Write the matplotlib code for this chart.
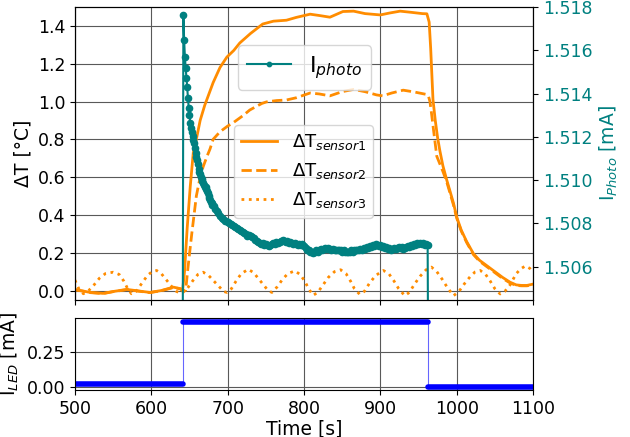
import matplotlib
matplotlib.use("Agg")
import matplotlib.pyplot as plt
import numpy as np

# temperature rise of the three sensors [°C]
s1_t = [500, 510, 520, 537, 550, 568, 583, 598, 613, 629, 638, 641, 643.5, 647, 651, 655,
        659, 664, 670, 681, 690, 699, 708, 716, 730, 746, 760, 777, 790, 808, 820, 834,
        851, 865, 880, 900, 912, 926, 940, 955, 961, 964, 966, 967, 969, 972, 975, 978,
        982, 987, 991, 996, 1000, 1006, 1013, 1022, 1030, 1040, 1050, 1060, 1070, 1078,
        1085, 1092, 1100]
s1_v = [0.005, -0.002, -0.01, -0.015, -0.005, 0.006, -0.002, -0.01, 0.0, 0.018, 0.01, 0.0,
        0.1, 0.33, 0.55, 0.73, 0.80, 0.90, 0.98, 1.10, 1.18, 1.235, 1.27, 1.31, 1.36, 1.41,
        1.425, 1.43, 1.445, 1.462, 1.455, 1.446, 1.476, 1.478, 1.465, 1.458, 1.468, 1.478,
        1.472, 1.465, 1.464, 1.42, 1.28, 1.19, 1.01, 0.90, 0.81, 0.74, 0.66, 0.585, 0.53,
        0.46, 0.39, 0.32, 0.26, 0.195, 0.16, 0.13, 0.10, 0.07, 0.044, 0.03, 0.027, 0.027,
        0.034]

s2_t = [500, 510, 520, 537, 550, 568, 583, 598, 613, 629, 638, 641, 645, 648, 653, 659,
        664, 668, 673, 677, 681, 690, 700, 707, 720, 729, 738, 745, 751, 764, 777, 790,
        808, 820, 834, 850, 865, 880, 895, 903, 915, 930, 945, 961, 963, 965, 967, 970,
        974, 978, 982, 987, 991, 996, 1000, 1006, 1013, 1022, 1030, 1040, 1050, 1060,
        1070, 1078, 1085, 1092, 1100]
s2_v = [0.004, -0.003, -0.011, -0.016, -0.006, 0.005, -0.003, -0.011, -0.001, 0.016, 0.009,
        0.0, 0.0, 0.12, 0.30, 0.50, 0.60, 0.656, 0.71, 0.75, 0.80, 0.84, 0.87, 0.887, 0.925,
        0.955, 0.975, 0.99, 0.998, 1.005, 1.008, 1.02, 1.045, 1.04, 1.03, 1.052, 1.064,
        1.052, 1.035, 1.03, 1.045, 1.06, 1.05, 1.037, 1.03, 1.0, 0.94, 0.84, 0.71, 0.67,
        0.63, 0.575, 0.52, 0.45, 0.385, 0.315, 0.255, 0.19, 0.155, 0.125, 0.095, 0.065,
        0.04, 0.027, 0.025, 0.025, 0.03]

s3_t = [500, 505, 511, 518, 525, 532, 540, 550, 558, 564, 569, 574, 580, 587, 595, 601,
        607, 613, 620, 627, 633, 640, 647, 654, 661, 668, 675, 682, 689, 695, 699, 705,
        711, 718, 727, 734, 741, 748, 753, 758, 765, 772, 779, 788, 795, 801, 806, 812,
        818, 825, 832, 840, 848, 855, 861, 866, 873, 879, 886, 894, 904, 911, 918, 924,
        932, 938, 945, 952, 960, 967, 974, 981, 988, 996, 1003, 1010, 1018, 1024, 1031,
        1038, 1044, 1050, 1057, 1063, 1070, 1078, 1084, 1090, 1096, 1100]
s3_v = [0.055, 0.01, -0.017, 0.0, 0.03, 0.065, 0.09, 0.097, 0.085, 0.05, 0.01, -0.017,
        -0.005, 0.035, 0.08, 0.1, 0.106, 0.09, 0.055, 0.02, -0.005, -0.015, 0.01, 0.05,
        0.085, 0.097, 0.08, 0.05, 0.02, -0.005, -0.01, 0.01, 0.05, 0.09, 0.112, 0.095,
        0.06, 0.025, 0.0, -0.01, 0.02, 0.06, 0.09, 0.104, 0.085, 0.05, 0.01, -0.025,
        -0.01, 0.03, 0.07, 0.1, 0.11, 0.09, 0.05, 0.01, -0.02, -0.005, 0.04, 0.08, 0.106,
        0.09, 0.05, 0.01, -0.027, -0.01, 0.035, 0.075, 0.11, 0.124, 0.1, 0.06, 0.015,
        -0.027, -0.005, 0.035, 0.075, 0.098, 0.106, 0.085, 0.05, 0.01, -0.018, -0.005,
        0.03, 0.089, 0.115, 0.13, 0.117, 0.097]

# photodiode current [mA]; LED switched on at 641 s, off at 963 s
photo_t = np.concatenate(([641], np.arange(642, 681), np.arange(682, 963, 2), [963]))
photo_mA = [1.4990,
            # 642 - 680 s
            1.51761, 1.51648, 1.51570, 1.51518, 1.51474, 1.51431, 1.51378, 1.51335, 1.51300, 1.51265,
            1.51239, 1.51222, 1.51205, 1.51187, 1.51170, 1.51148, 1.51126, 1.51109, 1.51091, 1.51074,
            1.51052, 1.51039, 1.51026, 1.51013, 1.51005, 1.50996, 1.50987, 1.50979, 1.50970, 1.50966,
            1.50957, 1.50948, 1.50940, 1.50926, 1.50918, 1.50909, 1.50900, 1.50896, 1.50887,
            # 682 - 962 s
            1.50879, 1.50866, 1.50857, 1.50848, 1.50835, 1.50827, 1.50822, 1.50813, 1.50809, 1.50805,
            1.50800, 1.50796, 1.50792, 1.50787, 1.50783, 1.50779, 1.50774, 1.50770, 1.50766, 1.50761,
            1.50757, 1.50753, 1.50744, 1.50748, 1.50740, 1.50735, 1.50731, 1.50722, 1.50718, 1.50714,
            1.50709, 1.50705, 1.50709, 1.50701, 1.50705, 1.50701, 1.50696, 1.50701, 1.50705, 1.50709,
            1.50705, 1.50714, 1.50709, 1.50714, 1.50718, 1.50722, 1.50718, 1.50714, 1.50718, 1.50709,
            1.50714, 1.50709, 1.50705, 1.50709, 1.50705, 1.50701, 1.50705, 1.50701, 1.50705, 1.50696,
            1.50688, 1.50679, 1.50675, 1.50666, 1.50670, 1.50662, 1.50666, 1.50675, 1.50670, 1.50679,
            1.50683, 1.50679, 1.50683, 1.50688, 1.50683, 1.50688, 1.50683, 1.50679, 1.50683, 1.50679,
            1.50675, 1.50679, 1.50675, 1.50679, 1.50670, 1.50675, 1.50666, 1.50670, 1.50666, 1.50670,
            1.50675, 1.50670, 1.50675, 1.50679, 1.50675, 1.50679, 1.50683, 1.50679, 1.50688, 1.50683,
            1.50692, 1.50688, 1.50696, 1.50692, 1.50701, 1.50696, 1.50705, 1.50701, 1.50696, 1.50701,
            1.50692, 1.50696, 1.50688, 1.50692, 1.50683, 1.50688, 1.50679, 1.50683, 1.50688, 1.50683,
            1.50688, 1.50692, 1.50688, 1.50692, 1.50683, 1.50688, 1.50692, 1.50696, 1.50692, 1.50701,
            1.50696, 1.50705, 1.50701, 1.50709, 1.50705, 1.50709, 1.50705, 1.50709, 1.50701, 1.50705,
            1.50701,
            1.4990]

# LED drive current [mA]
led_t = [500, 641, 641, 962, 962, 1100]
led_mA = [0.016, 0.016, 0.469, 0.469, 0.0, 0.0]

orange = '#ff8c00'
teal = '#008080'

fig = plt.figure(figsize=(6.3, 4.37), dpi=100)
ax1 = fig.add_axes([0.119, 0.3135, 0.727, 0.6705])
ax2 = fig.add_axes([0.119, 0.1076, 0.727, 0.164], sharex=ax1)
ax1b = ax1.twinx()

# temperatures
ax1.plot(s1_t, s1_v, color=orange, lw=2, label='ΔT$_{sensor1}$')
ax1.plot(s2_t, s2_v, color=orange, lw=2, ls='--', label='ΔT$_{sensor2}$')
ax1.plot(s3_t, s3_v, color=orange, lw=2, ls=':', label='ΔT$_{sensor3}$')
ax1.set_ylim(-0.05, 1.5)
ax1.set_yticks(np.arange(0, 1.41, 0.2))
ax1.set_ylabel('ΔT [°C]', fontsize=13.5)
ax1.grid(True, color='0.35', lw=0.8)
ax1.tick_params(labelsize=12.5, labelbottom=False)
ax1.legend(loc='upper left', bbox_to_anchor=(0.347, 0.597), borderaxespad=0, fontsize=13)

# photodiode current on the right axis
ax1b.plot(photo_t, photo_mA, color=teal, lw=1.5, marker='.', ms=9, label='I$_{photo}$')
ax1b.set_ylim(1.50446, 1.518)
ax1b.set_yticks(np.arange(1.506, 1.5181, 0.002))
ax1b.yaxis.set_major_formatter(plt.FormatStrFormatter('%.3f'))
ax1b.tick_params(labelsize=12.5, labelcolor=teal)
ax1b.set_ylabel('I$_{Photo}$ [mA]', fontsize=13.5, color=teal)
ax1b.legend(loc='upper left', bbox_to_anchor=(0.356, 0.870), borderaxespad=0, fontsize=16,
            markerscale=0.7)

# LED current
ax2.plot(led_t, led_mA, color='blue', lw=0.8, alpha=0.6)
for i in range(0, len(led_t), 2):
    ax2.plot(led_t[i:i + 2], led_mA[i:i + 2], color='blue', lw=4, solid_capstyle='round')
ax2.set_xlim(500, 1100)
ax2.set_yticks([0.0, 0.25])
ax2.yaxis.set_major_formatter(plt.FormatStrFormatter('%.2f'))
ax2.grid(True, color='0.35', lw=0.8)
ax2.tick_params(labelsize=12.5)
ax2.set_ylabel('I$_{LED}$ [mA]', fontsize=13.5)
ax2.set_xlabel('Time [s]', fontsize=13.5, labelpad=1)

fig.savefig('out.png', dpi=100)
